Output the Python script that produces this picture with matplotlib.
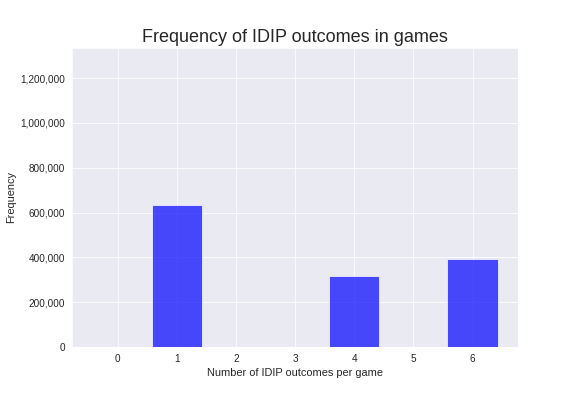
import numpy as np
import matplotlib
matplotlib.use('Agg')
import matplotlib.pyplot as plt
import seaborn as sns
from matplotlib.ticker import FuncFormatter

outcomes = [1, 4, 6]
counts = [633000, 316000, 392000]
xticks = [0, 1, 2, 3, 4, 5, 6]

sns.set_style('darkgrid')
plt.rcParams['font.family'] = ['Liberation Sans', 'DejaVu Sans']

fig = plt.figure(figsize=(8, 5.5), dpi=72)
ax = fig.add_subplot(111)
fig.subplots_adjust(left=0.125, right=0.9, top=0.879, bottom=0.124)

ax.bar(outcomes, counts, width=0.85, color='blue', alpha=0.7)
ax.set_xticks(xticks)
ax.set_xlim(-0.775, 6.775)
ax.set_ylim(0, 1335000)
ax.yaxis.set_major_formatter(FuncFormatter(lambda v, p: '{:,.0f}'.format(v)))
ax.tick_params(labelsize=10)
ax.set_xlabel('Number of IDIP outcomes per game', fontsize=11)
ax.set_ylabel('Frequency', fontsize=11)
ax.set_title('Frequency of IDIP outcomes in games', fontsize=18)

plt.savefig('out.png', dpi=72)
